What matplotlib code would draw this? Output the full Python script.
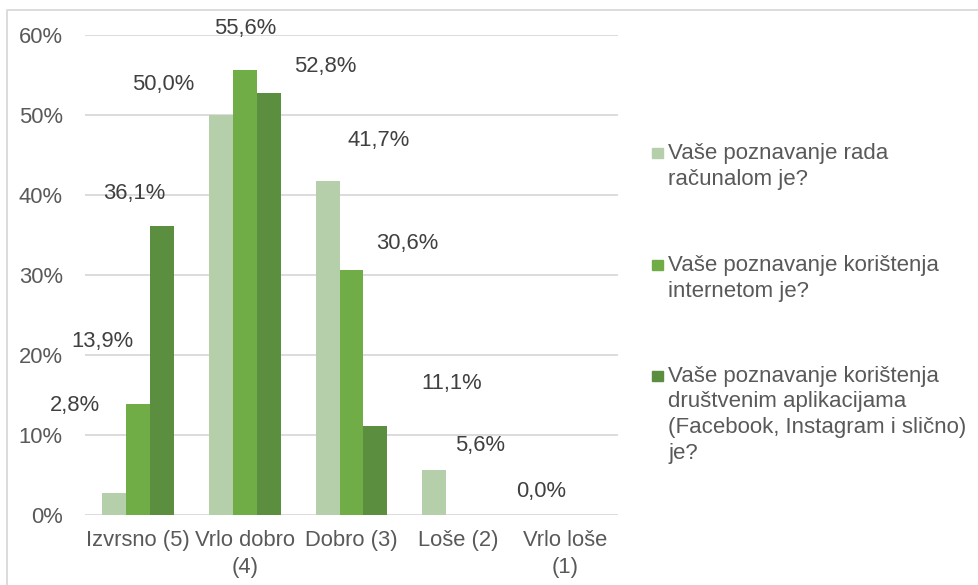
import numpy as np
import matplotlib
matplotlib.use('Agg')
import matplotlib.pyplot as plt
from matplotlib.lines import Line2D
from matplotlib.patches import Rectangle

plt.rcParams['font.family'] = ['Liberation Sans', 'DejaVu Sans']

kategorije = ['Izvrsno (5)', 'Vrlo dobro\n(4)', 'Dobro (3)', 'Loše (2)', 'Vrlo loše\n(1)']
serije = ['Vaše poznavanje rada\nračunalom je?',
          'Vaše poznavanje korištenja\ninternetom je?',
          'Vaše poznavanje korištenja\ndruštvenim aplikacijama\n(Facebook, Instagram i slično)\nje?']
racunalo = [2.8, 50.0, 41.7, 5.6, 0.0]
internet = [13.9, 55.6, 30.6, 0.0, 0.0]
aplikacije = [36.1, 52.8, 11.1, 0.0, 0.0]
boje = ['#b4cfa9', '#70ad47', '#5b8e3e']

# pomaci oznaka (pikseli) - u originalu su oznake razmaknute od stupaca
pomak = [
    [(-39, 87), (-58, 31), (51, 41), (46, 25), (0, 23)],
    [(-36, 62), (0, 42), (56, 27), None, None],
    [(-28, 33), (56, 26), (76, 43), None, None],
]

W, H = 979, 585
fig = plt.figure(figsize=(W / 100, H / 100), dpi=100)
ax = fig.add_axes([85 / W, 1 - 515 / H, 533 / W, 480 / H])

x = np.arange(len(kategorije))
sirina = 0.225
podaci = [racunalo, internet, aplikacije]
for i, vrijednosti in enumerate(podaci):
    v = np.array(vrijednosti) / 100
    bars = ax.bar(x + (i - 1) * sirina, v, sirina, color=boje[i], zorder=3)
    for j, b in enumerate(bars):
        if pomak[i][j] is None:
            continue
        tekst = ('%.1f' % vrijednosti[j]).replace('.', ',') + '%'
        ax.annotate(tekst, (b.get_x() + b.get_width() / 2, b.get_height()),
                    xytext=pomak[i][j], textcoords='offset pixels',
                    ha='center', va='center', fontsize=15.8, color='#404040')

ax.set_xlim(-0.5, len(kategorije) - 0.5)
ax.set_ylim(0, 0.6)
ax.set_yticks(np.arange(0, 0.61, 0.1))
ax.set_yticklabels(['%d%%' % round(t * 100) for t in np.arange(0, 0.61, 0.1)])
ax.set_xticks(x)
ax.set_xticklabels(kategorije, linespacing=1.35)
ax.tick_params(axis='both', length=0, labelsize=15.8, labelcolor='#595959')
ax.tick_params(axis='y', pad=16)
ax.tick_params(axis='x', pad=11)
ax.grid(axis='y', color='#d9d9d9', linewidth=1.3, zorder=0)
for s in ax.spines.values():
    s.set_visible(False)

# legenda rucno, kao u Excelu (svaki redak posebno)
leg_y = [159, 271, 382]
korak = 25.5
for i, naziv in enumerate(serije):
    fig.add_artist(Rectangle((652 / W, 1 - (leg_y[i] - 1) / H), 11 / W, 10 / H,
                             transform=fig.transFigure, color=boje[i]))
    for k, red in enumerate(naziv.split('\n')):
        fig.text(668 / W, 1 - (leg_y[i] + k * korak) / H, red, ha='left',
                 va='baseline', fontsize=16, color='#595959')

# okvir grafikona
fig.add_artist(Line2D([7 / W, 7 / W, 1], [0, 1 - 10 / H, 1 - 10 / H],
                      transform=fig.transFigure, color='#d9d9d9', linewidth=1.3))

plt.savefig('out.png', dpi=100)
